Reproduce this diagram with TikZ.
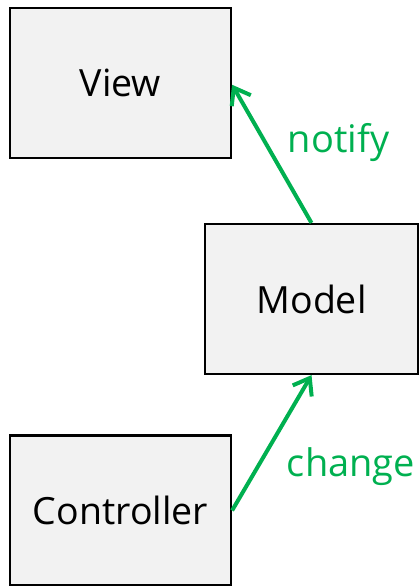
\documentclass[tikz,border=0pt]{standalone}
\usepackage{fontspec}
\setmainfont{Open Sans}
\usetikzlibrary{arrows.meta}
\definecolor{boxfill}{HTML}{F2F2F2}
\definecolor{flowgreen}{HTML}{00B050}
\tikzset{
  mvcbox/.style={draw=black, line width=2.2pt, fill=boxfill, minimum width=221pt,
    minimum height=150pt, inner sep=0pt, font=\fontsize{37.5}{44}\selectfont},
  flow/.style={draw=flowgreen, line width=4pt,
    -{Straight Barb[length=15pt,width=22pt,line width=4pt]}},
  flowlabel/.style={text=flowgreen, anchor=base, inner sep=0pt,
    font=\fontsize{38}{45}\selectfont}
}
\begin{document}
\begin{tikzpicture}[x=1pt,y=1pt]
  \useasboundingbox (0,0) rectangle (419,-586);
  \node[mvcbox] (view) at (120.5,-82.75) {View};
  \node[mvcbox, minimum width=213pt] (model) at (311.5,-299) {Model};
  \node[mvcbox] (ctrl) at (120.5,-510.5) {Controller};
  \draw[flow] (model.north) -- ([yshift=-2pt]view.east);
  \draw[flow] (ctrl.east) -- (model.south);
  \node[flowlabel] (notify) at (338.5,-152) {notify};
  \node[flowlabel] (change) at (351,-476) {change};
\end{tikzpicture}
\end{document}
